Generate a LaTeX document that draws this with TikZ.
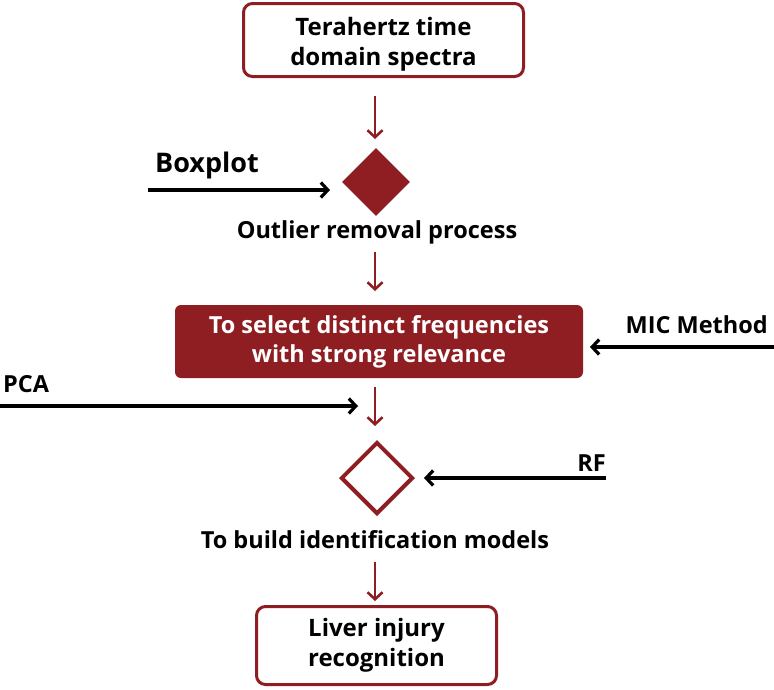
\documentclass[tikz,border=0pt]{standalone}
\usepackage{fontspec}
\setmainfont{Open Sans}
\usetikzlibrary{shapes.geometric,arrows.meta,positioning}
\definecolor{darkred}{RGB}{143,30,35}
\tikzset{
  roundbox/.style={draw=darkred,line width=3pt,rounded corners=9pt,fill=white,align=center,font=\fontsize{24}{30}\selectfont\bfseries},
  redbox/.style={fill=darkred,rounded corners=6pt,text=white,align=center,font=\fontsize{23.5}{29}\selectfont\bfseries},
  label/.style={font=\fontsize{23.5}{28}\selectfont\bfseries,inner sep=0pt},
  flowarrow/.style={draw=darkred,line width=2.6pt,-{Straight Barb[length=7pt,width=15pt]}},
  sidearrow/.style={draw=black,line width=3.2pt,-{Straight Barb[length=7pt,width=15pt]}}
}
\begin{document}
\begin{tikzpicture}[x=1pt,y=-1pt]
    \useasboundingbox (0,0) rectangle (774,689);
    %% main flow
    \node[roundbox,minimum width=280pt,minimum height=73pt,text height=56pt] (spectra) at (383.5,40) {Terahertz time\\domain spectra};
    \node[diamond,fill=darkred,minimum width=68pt,minimum height=68pt,inner sep=0pt] (outlier) at (376,182) {};
    \node[label] (outliertext) at (377,232) {Outlier removal process};
    \node[redbox,minimum width=408pt,minimum height=73pt] (select) at (379,341.5) {To select distinct frequencies\\with strong relevance};
    \node[diamond,draw=darkred,line width=4pt,fill=white,minimum width=72pt,minimum height=72pt,inner sep=0pt] (build) at (377,478) {};
    \node[label] (buildtext) at (375,540) {To build identification models};
    \node[roundbox,minimum width=240pt,minimum height=78pt] (liver) at (376.5,645.5) {Liver injury\\recognition};
    %% short red arrows (placed by eye)
    \coordinate (a1) at (375,96);  \coordinate (b1) at (375,139);
    \coordinate (a2) at (375,252); \coordinate (b2) at (375,291);
    \coordinate (a3) at (375,387); \coordinate (b3) at (375,426);
    \coordinate (a4) at (375,562); \coordinate (b4) at (375,601);
    \draw[flowarrow] (a1) -- (b1);
    \draw[flowarrow] (a2) -- (b2);
    \draw[flowarrow] (a3) -- (b3);
    \draw[flowarrow] (a4) -- (b4);
    %% methods coming in from the sides
    \node[label,font=\fontsize{27}{30}\selectfont\bfseries] (boxplot) at (207,165) {Boxplot};
    \coordinate (boxstart) at (148,190);
    \coordinate (boxend) at (330,190);
    \draw[sidearrow] (boxstart) -- (boxend);
    \node[label,anchor=east] (mic) at (768,325) {MIC Method};
    \coordinate (micstart) at (774,347);
    \coordinate (micend) at (590,347);
    \draw[sidearrow] (micstart) -- (micend);
    \node[label,anchor=west] (pca) at (3,384) {PCA};
    \coordinate (pcastart) at (0,406);
    \coordinate (pcaend) at (358,406);
    \draw[sidearrow] (pcastart) -- (pcaend);
    \node[label,anchor=east] (rf) at (606,463) {RF};
    \coordinate (rfstart) at (606,478);
    \draw[sidearrow] (rfstart) -- ([xshift=9pt]build.east);
\end{tikzpicture}
\end{document}
